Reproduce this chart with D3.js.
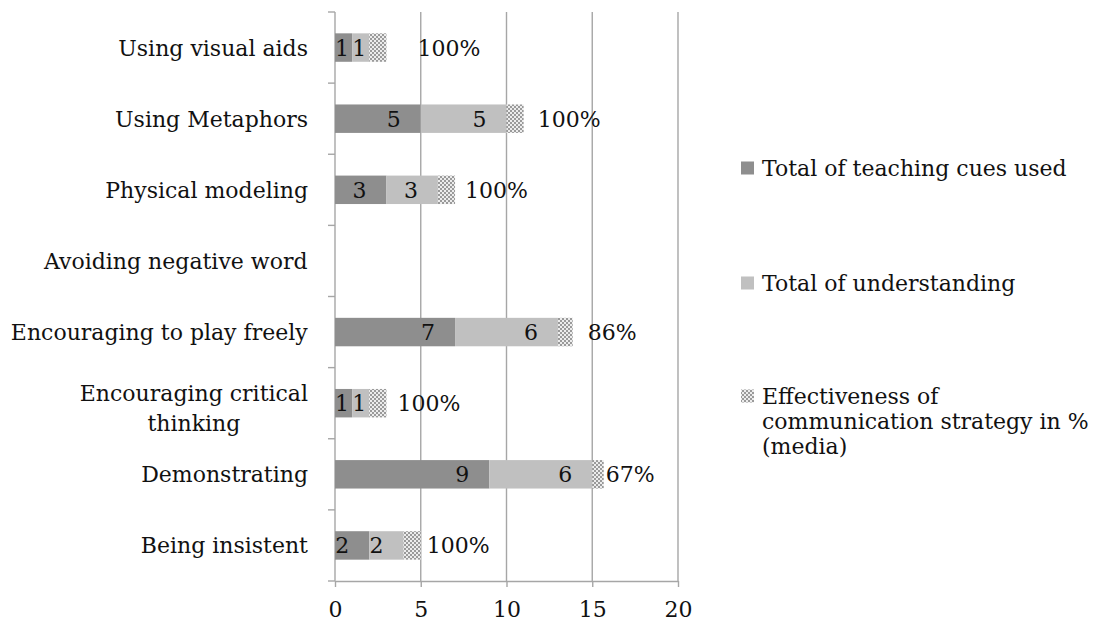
<!DOCTYPE html>
<html>
<head>
<meta charset="utf-8">
<script src="https://cdn.jsdelivr.net/npm/d3@7"></script>
<style>
  html, body { margin: 0; padding: 0; background: #ffffff; }
  svg { display: block; }
  text { font-family: "DejaVu Serif", "Liberation Serif", serif; fill: #111; }
</style>
</head>
<body>
<svg id="chart" width="1099" height="628"></svg>
<script>
// Communication strategies, listed top to bottom
const categories = [
  "Using visual aids",
  "Using Metaphors",
  "Physical modeling",
  "Avoiding negative word",
  "Encouraging to play freely",
  "Encouraging critical thinking",
  "Demonstrating",
  "Being insistent"
];
const teachingCues  = [1, 5, 3, 0, 7, 1, 9, 2];
const understanding = [1, 5, 3, 0, 6, 1, 6, 2];
const effectiveness = [1.00, 1.00, 1.00, 0, 0.86, 1.00, 0.67, 1.00];
const xTicks = [0, 5, 10, 15, 20];
const seriesNames = [
  "Total of teaching cues used",
  "Total of understanding",
  "Effectiveness of communication strategy in % (media)"
];

// layout
const W = 1099, H = 628;
const plot = { left: 335, right: 678, top: 12, bottom: 581 };
const fontSize = 22;
const pctLabelGap = [31, 14, 10, 0, 15, 11, 2, 6];   // space after the % segment

const svg = d3.select("#chart");

const defs = svg.append("defs");
const pat = defs.append("pattern")
  .attr("id", "checker")
  .attr("patternUnits", "userSpaceOnUse")
  .attr("width", 4).attr("height", 4);
pat.append("rect").attr("width", 4).attr("height", 4).attr("fill", "#ececec");
pat.append("rect").attr("x", 0).attr("y", 0).attr("width", 2).attr("height", 2).attr("fill", "#9a9a9a");
pat.append("rect").attr("x", 2).attr("y", 2).attr("width", 2).attr("height", 2).attr("fill", "#9a9a9a");

const colors = ["#8e8e8e", "#c0c0c0", "url(#checker)"];

const x = d3.scaleLinear().domain([0, 20]).range([plot.left, plot.right]);
const y = d3.scaleBand().domain(categories)
  .range([plot.top, plot.bottom])
  .paddingInner(0.6).paddingOuter(0.3);

const gridColor = "#a6a6a6";

// vertical gridlines
svg.append("g")
  .selectAll("line")
  .data(xTicks.filter(t => t > 0))
  .join("line")
  .attr("x1", d => x(d)).attr("x2", d => x(d))
  .attr("y1", plot.top).attr("y2", plot.bottom)
  .attr("stroke", gridColor).attr("stroke-width", 1.4);

// bottom axis
const xAxis = svg.append("g")
  .attr("transform", `translate(0,${plot.bottom})`)
  .call(d3.axisBottom(x).tickValues(xTicks).tickSize(6).tickPadding(14).tickSizeOuter(0));
xAxis.select(".domain").attr("stroke", gridColor).attr("stroke-width", 1.4);
xAxis.selectAll(".tick line").attr("stroke", gridColor).attr("stroke-width", 1.4);
xAxis.selectAll(".tick text")
  .attr("font-size", fontSize)
  .attr("font-family", "DejaVu Serif")
  .attr("fill", "#111");

// left axis: ticks at category boundaries
const step = y.step();
const boundaries = d3.range(categories.length + 1).map(i => plot.top + i * step);
svg.append("line")
  .attr("x1", plot.left).attr("x2", plot.left)
  .attr("y1", plot.top).attr("y2", plot.bottom)
  .attr("stroke", gridColor).attr("stroke-width", 1.4);
svg.append("g").selectAll("line")
  .data(boundaries)
  .join("line")
  .attr("x1", plot.left - 7).attr("x2", plot.left)
  .attr("y1", d => d).attr("y2", d => d)
  .attr("stroke", gridColor).attr("stroke-width", 1.4);

// category labels: block right-aligned at the axis, wrapped lines centred
const wrapAt = { "Encouraging critical thinking": ["Encouraging critical", "thinking"] };
const catG = svg.append("g");
categories.forEach(c => {
  const cy = y(c) + y.bandwidth() / 2;
  const lines = wrapAt[c] || [c];
  const lh = 30;
  const shift = lines.length > 1 ? 5 : 0;
  const t = catG.append("text")
    .attr("text-anchor", "middle")
    .attr("font-size", fontSize);
  lines.forEach((ln, i) => {
    t.append("tspan")
      .attr("x", 0)
      .attr("y", cy + 8 + shift + (i - (lines.length - 1) / 2) * lh)
      .text(ln);
  });
  const bw = t.node().getBBox().width;
  t.selectAll("tspan").attr("x", 308 - bw / 2);
});

// stacked bars
const stacked = categories.map((c, i) => {
  const vals = [teachingCues[i], understanding[i], effectiveness[i]];
  let acc = 0;
  return vals.map((v, s) => {
    const seg = { cat: c, idx: i, s, v, x0: acc, x1: acc + v };
    acc += v;
    return seg;
  });
});

const barG = svg.append("g");
stacked.forEach(row => {
  barG.selectAll(null)
    .data(row.filter(d => d.v > 0))
    .join("rect")
    .attr("x", d => x(d.x0))
    .attr("y", d => y(d.cat))
    .attr("width", d => x(d.x1) - x(d.x0))
    .attr("height", y.bandwidth())
    .attr("fill", d => colors[d.s]);
});

// value labels inside the count segments, percentages after the bar
const labG = svg.append("g");
stacked.forEach(row => {
  row.filter(d => d.s < 2 && d.v > 0).forEach(d => {
    const t = labG.append("text")
      .attr("font-size", fontSize)
      .attr("text-anchor", "end")
      .attr("y", y(d.cat) + y.bandwidth() / 2 + 8)
      .text(d.v);
    const w = t.node().getComputedTextLength();
    t.attr("x", Math.max(x(d.x1) - 20, x(d.x0) + w));
  });
  const p = row[2];
  if (p.v > 0) {
    labG.append("text")
      .attr("font-size", fontSize)
      .attr("x", x(p.x1) + pctLabelGap[p.idx])
      .attr("y", y(p.cat) + y.bandwidth() / 2 + 8)
      .text(d3.format(".0%")(p.v));
  }
});

// legend
const legend = [
  { lines: ["Total of teaching cues used"], cy: 168 },
  { lines: ["Total of understanding"], cy: 283 },
  { lines: ["Effectiveness of", "communication strategy in %", "(media)"], cy: 396 }
];
const legG = svg.append("g");
legend.forEach((L, i) => {
  legG.append("rect")
    .attr("x", 741).attr("y", L.cy - 6.5)
    .attr("width", 13).attr("height", 13)
    .attr("fill", colors[i]);
  const t = legG.append("text").attr("font-size", fontSize);
  L.lines.forEach((ln, k) => {
    t.append("tspan").attr("x", 762).attr("y", L.cy + 8 + k * 25).text(ln);
  });
});
</script>
</body>
</html>
